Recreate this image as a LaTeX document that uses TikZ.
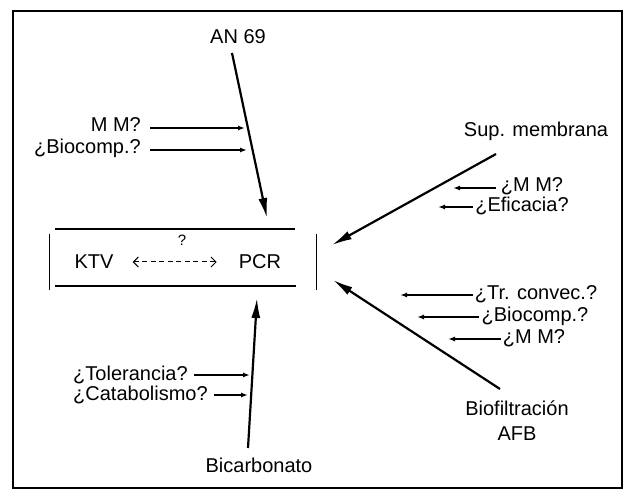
\documentclass[tikz,border=0pt]{standalone}
\usepackage{fontspec}
\setmainfont{Liberation Sans}
\usetikzlibrary{arrows.meta,calc}
\begin{document}
\begin{tikzpicture}[x=1pt,y=-1pt,
  txt/.style={inner sep=0pt,font=\fontsize{20}{24}\selectfont},
  bigarrow/.style={line width=2.2pt,-{Latex[length=20pt,width=9pt]}},
  smallarrow/.style={line width=1.6pt,-{Latex[length=7pt,width=5pt]}}]
  \useasboundingbox (0,0) rectangle (627,497);
  \draw[line width=1.7pt] (13,11) rectangle (622,488);

  \node[txt] (ktv) at (94,262) {KTV};
  \node[txt] (pcr) at (260,262) {PCR};
  \node[txt,font=\fontsize{15}{18}\selectfont] (q) at (182,240) {?};
  \draw[line width=1pt,dash pattern=on 5pt off 3.5pt,
    {Straight Barb[length=5pt,width=10pt]}-{Straight Barb[length=5pt,width=10pt]},
    shorten <=19pt,shorten >=22pt] (ktv) -- (pcr);
  \draw[line width=1.3pt] (55,229) -- (295,229) (55,286) -- (296,286);
  \draw[line width=1pt] (49,234) -- (49,290) (316,234) -- (316,290);

  \node[txt,anchor=base] (an) at (238,44) {AN 69};
  \node[txt,anchor=base] (sup) at (536,137) {Sup. membrana};
  \node[txt,anchor=base] (bio) at (517,415) {Biofiltración};
  \node[txt,anchor=base] (afb) at (517,440) {AFB};
  \node[txt,anchor=base] (bic) at (259,472) {Bicarbonato};
  \coordinate (anTip) at (267,218);
  \coordinate (supTip) at (332,245);
  \coordinate (bioTip) at (333,280);
  \coordinate (bicTip) at (257,298);
  \draw[bigarrow] ($(an.base)+(-6,9)$) -- (anTip);
  \draw[bigarrow] ($(sup.base)+(-40,17)$) -- (supTip);
  \draw[bigarrow] ($(bio.base)+(-17,-26)$) -- (bioTip);
  \draw[bigarrow] ($(bic.base)+(-11,-24)$) -- (bicTip);

  \node[txt,anchor=base east] (mmA) at (141,132) {M M?};
  \node[txt,anchor=base east] (bcA) at (141,154) {¿Biocomp.?};
  \node[txt,anchor=base] (mmB) at (532,192) {¿M M?};
  \node[txt,anchor=base] (efB) at (522,212) {¿Eficacia?};
  \node[txt,anchor=base] (trC) at (536,300) {¿Tr. convec.?};
  \node[txt,anchor=base] (bcC) at (535,322) {¿Biocomp.?};
  \node[txt,anchor=base] (mmC) at (534,344) {¿M M?};
  \node[txt,anchor=base west] (tol) at (73,380) {¿Tolerancia?};
  \node[txt,anchor=base west] (cat) at (73,400) {¿Catabolismo?};
  \coordinate (mmAEnd) at (245,128);
  \coordinate (bcAEnd) at (247,150);
  \coordinate (mmBEnd) at (453,188);
  \coordinate (efBEnd) at (438,207);
  \coordinate (trCEnd) at (400,295);
  \coordinate (bcCEnd) at (417,317);
  \coordinate (mmCEnd) at (448,339);
  \coordinate (tolEnd) at (250,375);
  \coordinate (catEnd) at (248,395);
  \draw[smallarrow] ($(mmAEnd -| mmA.east)+(9,0)$) -- (mmAEnd);
  \draw[smallarrow] ($(bcAEnd -| bcA.east)+(9,0)$) -- (bcAEnd);
  \draw[smallarrow] ($(mmBEnd -| mmB.west)+(-5,0)$) -- (mmBEnd);
  \draw[smallarrow] ($(efBEnd -| efB.west)+(-2,0)$) -- (efBEnd);
  \draw[smallarrow] ($(trCEnd -| trC.west)+(-2,0)$) -- (trCEnd);
  \draw[smallarrow] ($(bcCEnd -| bcC.west)+(-2,0)$) -- (bcCEnd);
  \draw[smallarrow] ($(mmCEnd -| mmC.west)+(-2,0)$) -- (mmCEnd);
  \draw[smallarrow] ($(tolEnd -| tol.east)+(6,0)$) -- (tolEnd);
  \draw[smallarrow] ($(catEnd -| cat.east)+(6,0)$) -- (catEnd);
\end{tikzpicture}
\end{document}
